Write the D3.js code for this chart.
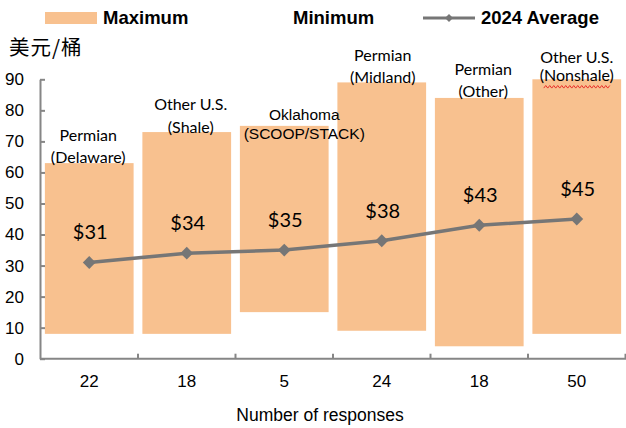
<!DOCTYPE html>
<html>
<head>
<meta charset="utf-8">
<script src="https://cdn.jsdelivr.net/npm/d3@7"></script>
<style>
  html, body { margin: 0; padding: 0; background: #fff; }
  svg { display: block; }
</style>
</head>
<body>
<svg id="chart" width="626" height="428"></svg>
<script>
// Breakeven price ranges by region (USD per barrel)
const regionLine1 = ["Permian", "Other U.S.", "Oklahoma", "Permian", "Permian", "Other U.S."];
const regionLine2 = ["(Delaware)", "(Shale)", "(SCOOP/STACK)", "(Midland)", "(Other)", "(Nonshale)"];
const responses = [22, 18, 5, 24, 18, 50];
const minimum = [8, 8, 15, 9, 4, 8];
const maximum = [63, 73, 75, 89, 84, 90];
const average2024 = [31, 34, 35, 38, 43, 45];
const yTicks = [0, 10, 20, 30, 40, 50, 60, 70, 80, 90];

// Per-label nudges for the region captions (dx, dy of the second line centre from the bar top)
const captionLayout = [
  { dx: -1, dy: -6, gap: 21.5, font: "Lato", size: 16 },
  { dx: 4, dy: -5, gap: 22.5, font: "Lato", size: 16 },
  { dx: 20, dy: 8, gap: 19, font: "Liberation Sans", size: 15.5 },
  { dx: 1, dy: -5, gap: 22, font: "Lato", size: 16 },
  { dx: 4, dy: -6.5, gap: 22, font: "Lato", size: 16 },
  { dx: 0, dy: -4, gap: 18, font: "Lato", size: 16 }
];

const BAR = "#F8C18F";
const LINE = "#767676";
const AXIS = "#868686";

const svg = d3.select("#chart");
const idx = d3.range(regionLine1.length);

const x = d3.scaleBand().domain(idx).range([40, 626]).paddingInner(0.09).paddingOuter(0.05);
const y = d3.scaleLinear().domain([0, 90]).range([358.7, 79.3]);

// Floating range bars: minimum to maximum
svg.append("g").selectAll("rect").data(idx).join("rect")
  .attr("x", i => x(i))
  .attr("width", x.bandwidth())
  .attr("y", i => y(maximum[i]))
  .attr("height", i => y(minimum[i]) - y(maximum[i]))
  .attr("fill", BAR);

// Y axis with inward ticks
const yAxis = d3.axisLeft(y).tickValues(yTicks).tickSizeInner(-5).tickSizeOuter(0).tickPadding(16);
const gy = svg.append("g").attr("transform", "translate(40,0)").call(yAxis);
gy.select(".domain").attr("stroke", AXIS).attr("stroke-width", 2);
gy.selectAll(".tick line").attr("stroke", AXIS).attr("stroke-width", 2);
gy.selectAll(".tick text").attr("font-family", "Liberation Sans, Arial, sans-serif")
  .attr("font-size", 17).attr("fill", "#000");

// X axis: response counts under each band, ticks on band boundaries
const xAxis = d3.axisBottom(x).tickSize(0).tickPadding(16).tickFormat(i => responses[i]);
const gx = svg.append("g").attr("transform", `translate(0,${y(0)})`).call(xAxis);
gx.select(".domain").remove();
gx.selectAll(".tick text").attr("font-family", "Liberation Sans, Arial, sans-serif")
  .attr("font-size", 17).attr("fill", "#000");

svg.append("line")
  .attr("x1", 40).attr("x2", 626).attr("y1", y(0)).attr("y2", y(0))
  .attr("stroke", AXIS).attr("stroke-width", 2);
const halfGap = (x.step() - x.bandwidth()) / 2;
svg.append("g").selectAll("line").data(idx).join("line")
  .attr("x1", i => x(i) + x.bandwidth() + halfGap)
  .attr("x2", i => x(i) + x.bandwidth() + halfGap)
  .attr("y1", y(0)).attr("y2", y(0) - 5)
  .attr("stroke", AXIS).attr("stroke-width", 2);

svg.append("text")
  .attr("x", 320).attr("y", 421)
  .attr("text-anchor", "middle")
  .attr("font-family", "Liberation Sans, Arial, sans-serif")
  .attr("font-size", 17.5)
  .text("Number of responses");

// Unit label
svg.append("text")
  .attr("x", 9).attr("y", 55)
  .attr("font-family", "Noto Sans CJK SC, sans-serif")
  .attr("font-size", 20.5)
  .attr("letter-spacing", 1)
  .text("美元/桶");

// Region captions above each bar
const caps = svg.append("g");
idx.forEach(i => {
  const L = captionLayout[i];
  const cx = x(i) + x.bandwidth() / 2 + L.dx;
  const c2 = y(maximum[i]) + L.dy;
  const t = caps.append("text")
    .attr("text-anchor", "middle")
    .attr("font-family", L.font + ", sans-serif")
    .attr("font-size", L.size)
    .attr("fill", "#000");
  t.append("tspan").attr("x", cx).attr("y", c2 - L.gap + 5.5).text(regionLine1[i]);
  t.append("tspan").attr("x", cx).attr("y", c2 + 5.5).text(regionLine2[i]);
});

// Spell-check style squiggle under the last caption's second line
{
  const i = 5;
  const cx = x(i) + x.bandwidth() / 2 + captionLayout[i].dx;
  const yy = y(maximum[i]) + captionLayout[i].dy + 11.5;
  const x0 = cx - 33, x1 = cx + 33;
  const pts = [];
  for (let k = 0, px = x0; px <= x1; k++, px += 2) pts.push([px, yy + (k % 2 ? -1.3 : 1.3)]);
  svg.append("path").attr("d", d3.line()(pts)).attr("fill", "none")
    .attr("stroke", "#E8302A").attr("stroke-width", 1);
}

// 2024 average line with diamond markers
const cxOf = i => x(i) + x.bandwidth() / 2;
svg.append("path")
  .datum(idx)
  .attr("d", d3.line().x(i => cxOf(i)).y(i => y(average2024[i])))
  .attr("fill", "none").attr("stroke", LINE).attr("stroke-width", 3.5);
const diamond = d3.symbol().type(d3.symbolDiamond2).size(105);
svg.append("g").selectAll("path").data(idx).join("path")
  .attr("d", diamond)
  .attr("transform", i => `translate(${cxOf(i)},${y(average2024[i])})`)
  .attr("fill", LINE);

// Average value labels
svg.append("g").selectAll("text").data(idx).join("text")
  .attr("x", i => cxOf(i) + 1)
  .attr("y", i => y(average2024[i]) - 23)
  .attr("text-anchor", "middle")
  .attr("font-family", "Lato, sans-serif")
  .attr("font-size", 20)
  .attr("fill", "#000")
  .text(i => "$" + average2024[i]);

// Legend
const lg = svg.append("g").attr("font-family", "Liberation Sans, Arial, sans-serif")
  .attr("font-weight", "bold").attr("font-size", 18.5);
lg.append("rect").attr("x", 45).attr("y", 12).attr("width", 52).attr("height", 12).attr("fill", BAR);
lg.append("text").attr("x", 103).attr("y", 24).text("Maximum");
lg.append("text").attr("x", 293).attr("y", 24).text("Minimum");
lg.append("line").attr("x1", 423).attr("x2", 475).attr("y1", 18).attr("y2", 18)
  .attr("stroke", LINE).attr("stroke-width", 3);
lg.append("path").attr("d", d3.symbol().type(d3.symbolDiamond2).size(40))
  .attr("transform", "translate(449,18)").attr("fill", LINE);
lg.append("text").attr("x", 481).attr("y", 24).text("2024 Average");
</script>
</body>
</html>
